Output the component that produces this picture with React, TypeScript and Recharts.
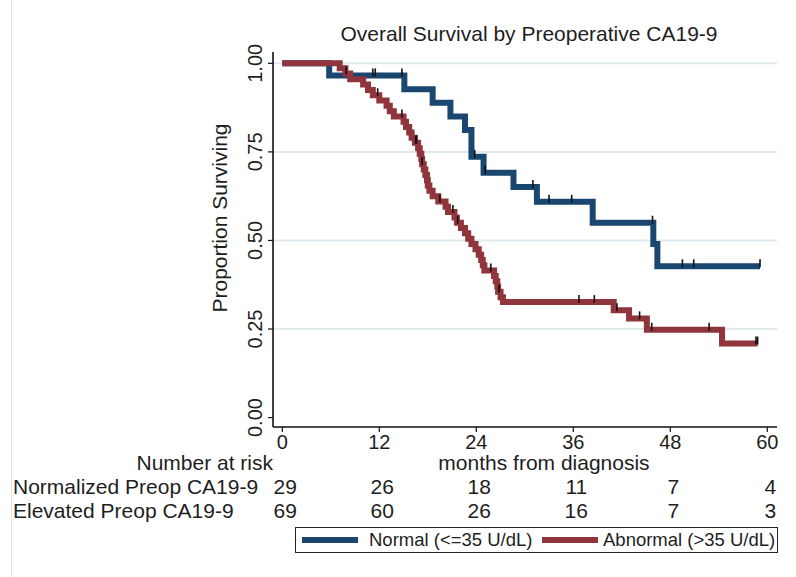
import React from "react";
import { ComposedChart, Line, Scatter, XAxis, YAxis, ReferenceLine } from "recharts";

// months, survival
const normalTimes = [0, 5.8, 15.1, 18.6, 20.8, 22.6, 23.4, 24.9, 28.6, 31.5, 38.4, 45.9, 46.4, 59.1];
const normalSurv = [1, 0.966, 0.927, 0.889, 0.85, 0.812, 0.736, 0.691, 0.651, 0.609, 0.55, 0.49, 0.427, 0.427];
const normalCensored = [11.2, 11.5, 14.8, 23.8, 25.1, 31.0, 33.0, 35.8, 45.8, 49.5, 50.9, 59.1];

const abnormalTimes = [0, 7.1, 7.8, 8.4, 10.0, 10.6, 11.2, 12.0, 12.9, 13.3, 13.8, 15.0, 15.3, 15.7, 16.0, 16.4,
  16.8, 17.0, 17.2, 17.3, 17.5, 17.7, 17.9, 18.0, 18.2, 18.6, 19.3, 20.2, 20.5, 21.3, 21.6, 22.1, 22.6, 23.0,
  23.4, 23.9, 24.3, 24.6, 24.8, 25.0, 26.2, 26.4, 26.6, 26.7, 27.0, 27.3, 41.0, 42.9, 45.1, 54.4, 58.8];
const abnormalSurv = [1, 0.986, 0.971, 0.955, 0.94, 0.925, 0.91, 0.895, 0.88, 0.865, 0.85, 0.835, 0.82, 0.805, 0.79, 0.776,
  0.76, 0.745, 0.73, 0.715, 0.7, 0.685, 0.67, 0.655, 0.64, 0.625, 0.61, 0.595, 0.58, 0.565, 0.55, 0.535, 0.52, 0.505,
  0.49, 0.475, 0.46, 0.445, 0.43, 0.415, 0.4, 0.385, 0.37, 0.355, 0.34, 0.326, 0.303, 0.28, 0.248, 0.209, 0.209];
const abnormalCensored = [7.9, 11.8, 14.8, 16.5, 16.6, 17.3, 19.5, 21.1, 21.7, 25.8, 26.8, 36.7, 38.6, 41.4, 44.2, 45.7, 52.8, 58.6, 58.8];

const xTicks = [0, 12, 24, 36, 48, 60];
const yTicks = [0, 0.25, 0.5, 0.75, 1];
const gridValues = [0.25, 0.5, 0.75, 1];
const riskNormal = [29, 26, 18, 11, 7, 4];
const riskAbnormal = [69, 60, 26, 16, 7, 3];

const BLUE = "#1a476f";
const RED = "#90353b";
const INK = "#1e1e1e";
const FONT = "'Liberation Sans', Arial, Helvetica, sans-serif";

const toRows = (t: number[], s: number[]) => t.map((v, i) => ({ t: v, s: s[i] }));
const survAt = (t: number[], s: number[], at: number) => {
  let k = 0;
  for (let i = 0; i < t.length; i++) if (t[i] <= at) k = i;
  return s[k];
};
const censRows = (c: number[], t: number[], s: number[]) => c.map((v) => ({ t: v, s: survAt(t, s, v) }));

const normalData = toRows(normalTimes, normalSurv);
const abnormalData = toRows(abnormalTimes, abnormalSurv);
const normalCens = censRows(normalCensored, normalTimes, normalSurv);
const abnormalCens = censRows(abnormalCensored, abnormalTimes, abnormalSurv);

const CensorMark = (props: any) => {
  const { cx, cy } = props;
  if (cx == null || cy == null) return <g />;
  return <line x1={cx} x2={cx} y1={cy - 7} y2={cy + 1} stroke="#111" strokeWidth={1.6} />;
};

const XTick = (props: any) => {
  const { x, payload } = props;
  const i = xTicks.indexOf(payload.value);
  return (
    <g fontFamily={FONT} fill={INK}>
      <text x={x} y={449} textAnchor="middle" fontSize={20} fill={INK}>{payload.value}</text>
      <text x={x + 3} y={494} textAnchor="middle" fontSize={21} fill={INK}>{riskNormal[i]}</text>
      <text x={x + 3} y={518} textAnchor="middle" fontSize={21} fill={INK}>{riskAbnormal[i]}</text>
    </g>
  );
};

const YTick = (props: any) => {
  const { x, y, payload } = props;
  return (
    <text transform={`translate(${x - 4}, ${y}) rotate(-90)`} textAnchor="middle" fontSize={20} fontFamily={FONT} fill={INK}>
      {Number(payload.value).toFixed(2)}
    </text>
  );
};

const KeyBox = () => (
  <div style={{ position: "absolute", left: 295, top: 527, width: 483, height: 26, border: "1px solid #222", boxSizing: "border-box", fontFamily: FONT, fontSize: 18.5, color: INK, background: "#fff" }}>
    <div style={{ position: "absolute", left: 6, top: 9, width: 56, height: 6, background: BLUE }} />
    <span style={{ position: "absolute", left: 73, top: 1, whiteSpace: "nowrap" }}>Normal (&lt;=35 U/dL)</span>
    <div style={{ position: "absolute", left: 246, top: 9, width: 56, height: 6, background: RED }} />
    <span style={{ position: "absolute", left: 307, top: 1, whiteSpace: "nowrap" }}>Abnormal (&gt;35 U/dL)</span>
  </div>
);

export default function App() {
  return (
    <div style={{ position: "absolute", left: 0, top: 0, width: 796, height: 577, background: "#fff", overflow: "hidden" }}>
      <div style={{ position: "absolute", left: 11, top: 0, width: 1, height: 577, background: "#dfe6ea" }} />
      <ComposedChart width={796} height={577} margin={{ top: 52, right: 19, bottom: 120, left: 213 }}>
        {gridValues.map((v) => (
          <ReferenceLine key={v} y={v} stroke="#e0eaed" strokeWidth={2} />
        ))}
        <XAxis
          dataKey="t"
          type="number"
          domain={[-1.15, 61.2]}
          ticks={xTicks}
          allowDataOverflow
          height={30}
          tickSize={5}
          axisLine={{ stroke: "#111", strokeWidth: 1.6 }}
          tickLine={{ stroke: "#111", strokeWidth: 1.2 }}
          tick={<XTick />}
          interval={0}
        />
        <YAxis
          dataKey="s"
          type="number"
          domain={[-0.0266, 1.032]}
          ticks={yTicks}
          allowDataOverflow
          width={60}
          tickSize={5}
          axisLine={{ stroke: "#111", strokeWidth: 1.6 }}
          tickLine={{ stroke: "#111", strokeWidth: 1.2 }}
          tick={<YTick />}
          interval={0}
        />
        <Line data={normalData} dataKey="s" type="stepAfter" stroke={BLUE} strokeWidth={6} dot={false} activeDot={false} isAnimationActive={false} name="Normal (<=35 U/dL)" />
        <Line data={abnormalData} dataKey="s" type="stepAfter" stroke={RED} strokeWidth={6} dot={false} activeDot={false} isAnimationActive={false} name="Abnormal (>35 U/dL)" />
        <Scatter data={normalCens} dataKey="s" shape={<CensorMark />} isAnimationActive={false} legendType="none" />
        <Scatter data={abnormalCens} dataKey="s" shape={<CensorMark />} isAnimationActive={false} legendType="none" />
      </ComposedChart>
      <KeyBox />
      <svg width={796} height={577} style={{ position: "absolute", left: 0, top: 0, pointerEvents: "none" }} fontFamily={FONT} fill={INK}>
        <text x={529} y={41} textAnchor="middle" fontSize={21}>Overall Survival by Preoperative CA19-9</text>
        <text transform="translate(227, 218) rotate(-90)" textAnchor="middle" fontSize={21}>Proportion Surviving</text>
        <text x={273} y={470} textAnchor="end" fontSize={21}>Number at risk</text>
        <text x={544} y={470} textAnchor="middle" fontSize={21}>months from diagnosis</text>
        <text x={13} y={494} fontSize={21}>Normalized Preop CA19-9</text>
        <text x={13} y={518} fontSize={21}>Elevated Preop CA19-9</text>
      </svg>
    </div>
  );
}
